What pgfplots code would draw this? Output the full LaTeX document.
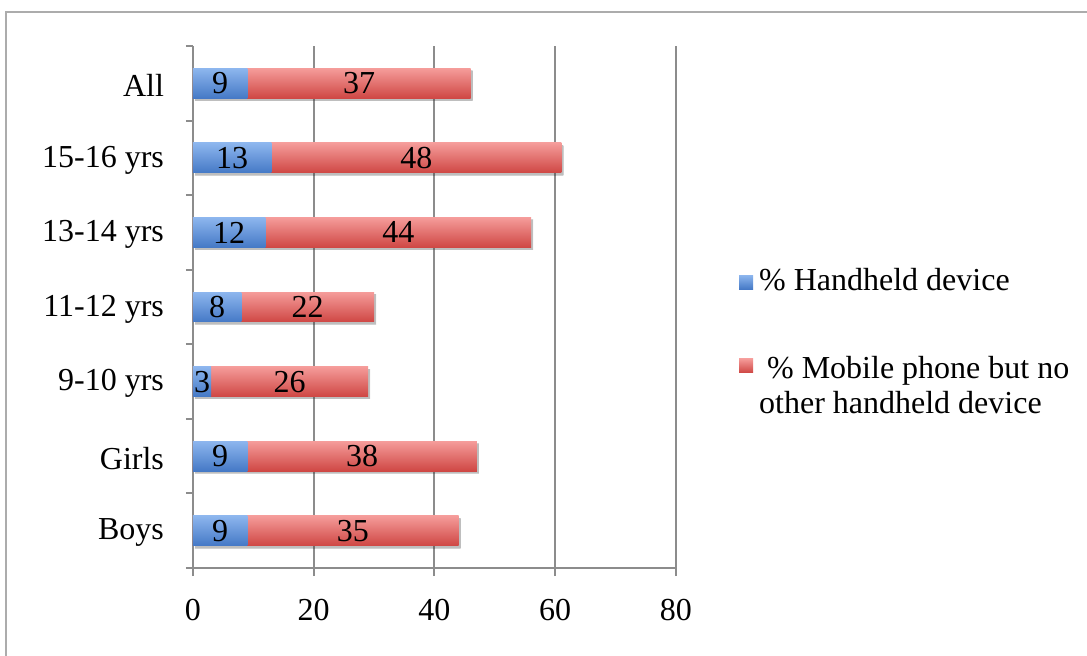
\documentclass[border=0pt]{standalone}
\usepackage{pgfplots}
\pgfplotsset{compat=1.18}
\usepackage{pgfplotstable}
\usetikzlibrary{shadows}
\usepackage{fontspec}
\setmainfont{Liberation Serif}

\definecolor{bluetop}{HTML}{8DB6EE}
\definecolor{bluebot}{HTML}{4579C6}
\definecolor{redtop}{HTML}{F59C9A}
\definecolor{redbot}{HTML}{CF4744}
\definecolor{axgray}{HTML}{8C8C8C}

% idx: 0 = Boys ... 6 = All
\pgfplotstableread{
idx hand mobile
0 9 35
1 9 38
2 3 26
3 8 22
4 12 44
5 13 48
6 9 37
}\devices

\pgfplotsset{
    barbase/.style={xbar, bar width=0.4, draw=none, forget plot},
    bluebar/.style={barbase, top color=bluetop, bottom color=bluebot},
    redbar/.style={barbase, top color=redtop, bottom color=redbot,
        drop shadow={shadow xshift=1pt, shadow yshift=-1.2pt, opacity=0.18,
            top color=black, bottom color=black}},
    vallabel/.style={only marks, mark=none, forget plot, nodes near coords,
        point meta=explicit symbolic,
        every node near coord/.style={anchor=center, text=black,
            font=\fontsize{16}{17.5}\selectfont}},
}

\begin{document}
\fontsize{16}{17.5}\selectfont
\begin{tikzpicture}[x=1pt,y=1pt]
\useasboundingbox (-96.5,-43.5) rectangle (447,284);
\draw[gray!65, line width=1pt] (-93.5,-50) -- (-93.5,278) -- (460,278);
\begin{axis}[
    scale only axis, width=241.5pt, height=261pt,
    xmin=0, xmax=80, ymin=-0.5, ymax=6.5,
    xtick={0,20,...,80},
    ytick={0,...,6},
    yticklabels={Boys,Girls,9-10 yrs,11-12 yrs,13-14 yrs,15-16 yrs,All},
    minor ytick={-0.5,0.5,...,6.5},
    axis x line*=bottom, axis y line*=left,
    axis line style={axgray, line width=1pt},
    tick align=outside,
    major tick length=4pt, minor tick length=3.5pt,
    tick style={axgray, line width=1pt},
    major y tick style={draw=none},
    xmajorgrids, major grid style={axgray, line width=1pt},
    /pgf/number format/assume math mode=true,
    tick label style={font=\fontsize{16}{17.5}\selectfont},
    xticklabel style={yshift=-6pt},
    yticklabel style={xshift=-5pt, yshift=-1pt},
    legend cell align=left,
    legend style={at={(1.13,0.582)}, anchor=north west, draw=none, fill=none,
        font=\fontsize{16}{17.5}\selectfont, cells={align=left}, row sep=26.5pt,
        inner sep=0pt, nodes={inner xsep=3pt}},
]
% red bars run to the total; blue bars lie over their first part
\pgfplotsinvokeforeach{0,...,6}{
  \addplot[redbar] table[x expr=\thisrow{hand}+\thisrow{mobile}, y=idx,
      restrict expr to domain={\thisrow{idx}}{#1:#1}] {\devices};
  \addplot[bluebar] table[x=hand, y=idx,
      restrict expr to domain={\thisrow{idx}}{#1:#1}] {\devices};
}
% value labels in the middle of each part
\addplot[vallabel] table[x expr=\thisrow{hand}/2, y=idx, meta=hand] {\devices};
\addplot[vallabel] table[x expr=\thisrow{hand}+\thisrow{mobile}/2, y=idx, meta=mobile] {\devices};

\addlegendimage{legend image code/.code={\path[draw=none, top color=bluetop, bottom color=bluebot] (0pt,-3.5pt) rectangle (7pt,3.5pt);}}
\addlegendentry{\% Handheld device}
\addlegendimage{legend image code/.code={\path[draw=none, top color=redtop, bottom color=redbot] (0pt,7.5pt) rectangle (7pt,14.5pt);}}
\addlegendentry{\ \% Mobile phone but no\\other handheld device}
\end{axis}
\end{tikzpicture}
\end{document}
